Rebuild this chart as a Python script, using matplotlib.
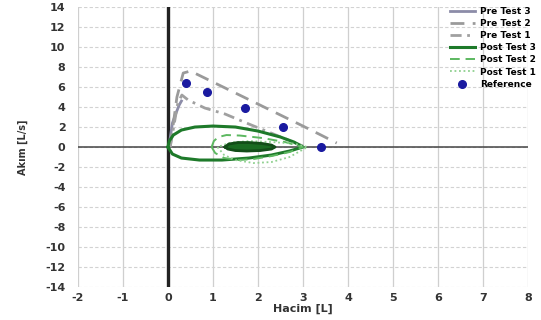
import matplotlib.pyplot as plt
import numpy as np

plt.rcParams["axes.unicode_minus"] = False

# ==========================
# Data
# ==========================

ref_x = [0.40, 0.86, 1.71, 2.55, 3.40]
ref_y = [6.4, 5.5, 3.9, 2.0, 0.0]

pre3_x = [0.02, 0.10, 0.18, 0.25, 0.30]
pre3_y = [0.0, 2.4, 3.4, 4.2, 4.6]

pre2_x = [0.05, 0.20, 0.34, 0.50, 1.00, 1.50, 2.00, 2.50, 3.00, 3.40, 3.75]
pre2_y = [0.0, 5.0, 7.4, 7.6, 6.5, 5.4, 4.3, 3.2, 2.1, 1.2, 0.4]

pre1_x = [0.05, 0.15, 0.22, 0.31, 0.45, 0.82, 1.27, 1.80, 2.40, 3.00]
pre1_y = [0.0, 2.6, 4.4, 5.2, 4.7, 3.9, 3.3, 2.3, 1.2, 0.1]

post3_x = [0.00, 0.03, 0.12, 0.30, 0.60, 1.00, 1.50, 2.00, 2.50, 2.80, 3.00,
           2.70, 2.30, 1.80, 1.20, 0.70, 0.30, 0.10, 0.00]
post3_y = [0.0, 0.6, 1.2, 1.7, 2.0, 2.1, 2.0, 1.6, 1.0, 0.5, 0.0,
           -0.4, -0.8, -1.1, -1.3, -1.3, -1.1, -0.7, 0.0]

post2_x = [0.97, 1.02, 1.12, 1.30, 1.60, 2.10, 2.60, 3.00, 2.70, 2.30, 1.90,
           1.56, 1.25, 1.05, 0.97]
post2_y = [0.0, 0.6, 1.0, 1.2, 1.15, 0.9, 0.5, 0.0, -0.5, -0.9, -1.2,
           -1.3, -1.1, -0.6, 0.0]

post1_x = [1.10, 1.25, 1.50, 1.90, 2.30, 2.70, 3.10, 2.80, 2.30, 1.80, 1.40, 1.10]
post1_y = [0.0, -0.8, -1.3, -1.6, -1.5, -1.0, 0.0, 0.35, 0.5, 0.6, 0.45, 0.0]

blob_x = [1.27, 1.35, 1.55, 1.80, 2.10, 2.30, 2.38, 2.30, 2.05, 1.75, 1.50, 1.33, 1.27]
blob_y = [0.0, 0.3, 0.45, 0.45, 0.35, 0.2, 0.0, -0.2, -0.35, -0.4, -0.35, -0.2, 0.0]

xticks = list(range(-2, 9))
yticks = list(range(-14, 15, 2))

# ==========================
# Figure
# ==========================

fig = plt.figure(figsize=(5.41, 3.20), dpi=100)
ax = fig.add_axes([0.144, 0.103, 0.832, 0.875])

ax.set_xlim(-2, 8)
ax.set_ylim(-14, 14)
ax.set_xticks(xticks)
ax.set_yticks(yticks)

for s in ax.spines.values():
    s.set_visible(False)

ax.grid(axis="x", color="#cfcfcf", linewidth=0.9, linestyle="-")
ax.grid(axis="y", color="#d2d2d2", linewidth=0.8, linestyle=(0, (3, 2)))
ax.set_axisbelow(True)
ax.tick_params(length=0, labelsize=8, labelcolor="#333333")
ax.tick_params(axis="x", pad=4)
ax.tick_params(axis="y", pad=9)
for lab in ax.get_xticklabels() + ax.get_yticklabels():
    lab.set_fontweight("bold")

ax.axvline(0, color="#222222", linewidth=2.4, zorder=1)
ax.axhline(0, color="#444444", linewidth=1.1, zorder=1)

ax.plot(pre3_x, pre3_y, color="#8c8ca8", linewidth=2.0, label="Pre Test 3")
ax.plot(pre2_x, pre2_y, color="#9a9a9a", linewidth=2.0,
        linestyle=(0, (5, 3)), label="Pre Test 2")
ax.plot(pre1_x, pre1_y, color="#a0a0a0", linewidth=2.0,
        linestyle=(0, (4, 2, 1, 2)), label="Pre Test 1")
ax.plot(post3_x, post3_y, color="#1e7a2a", linewidth=2.2, label="Post Test 3")
ax.plot(post2_x, post2_y, color="#5cb860", linewidth=1.4,
        linestyle=(0, (5, 3)), label="Post Test 2")
ax.plot(post1_x, post1_y, color="#8fd08f", linewidth=1.3,
        linestyle=(0, (1, 1.5)), label="Post Test 1")
ax.fill(blob_x, blob_y, color="#1a6b22", zorder=3)
ax.plot(blob_x, blob_y, color="#124d18", linewidth=2.0, zorder=3)
ax.plot(ref_x, ref_y, linestyle="none", marker="o", markersize=5.5,
        markerfacecolor="#1a1aa0", markeredgecolor="#1a1aa0",
        label="Reference", zorder=4)

ax.set_xlabel("Hacim [L]", fontsize=8, fontweight="bold", color="#333333",
              labelpad=1)
ax.set_ylabel("Akım [L/s]", fontsize=7, fontweight="bold", color="#333333",
              labelpad=12)

leg = ax.legend(loc="upper right", bbox_to_anchor=(1.03, 1.02), frameon=False,
                fontsize=6.5, handlelength=2.8, handletextpad=0.6,
                labelspacing=0.35, borderaxespad=0.2)
for t in leg.get_texts():
    t.set_fontweight("bold")

fig.savefig("out.png", dpi=100)
